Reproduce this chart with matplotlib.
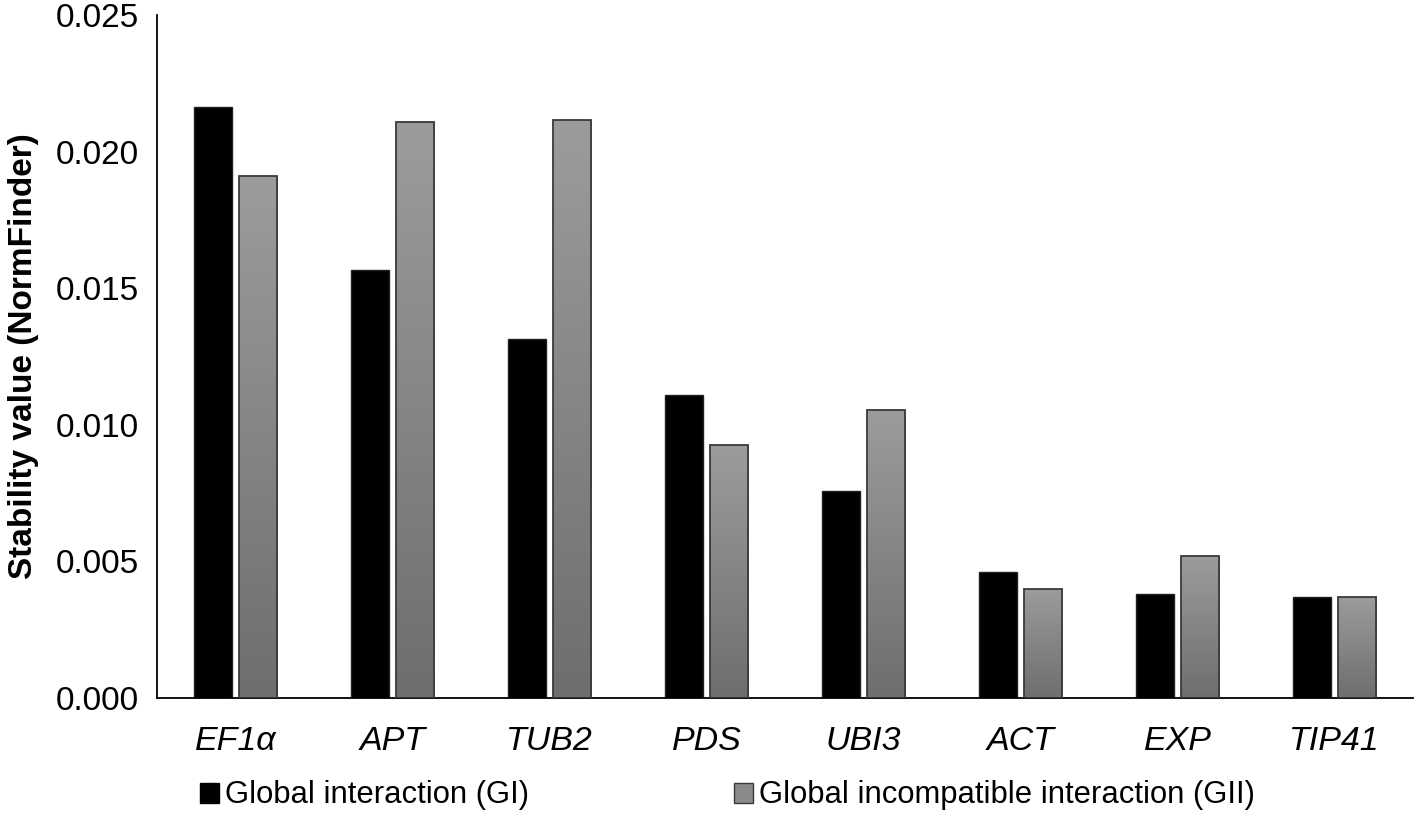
import matplotlib.pyplot as plt
import numpy as np
from matplotlib.colors import LinearSegmentedColormap
from matplotlib.patches import Patch

genes = ['EF1α', 'APT', 'TUB2', 'PDS', 'UBI3', 'ACT', 'EXP', 'TIP41']
gi = [0.02165, 0.01566, 0.01313, 0.0111, 0.00757, 0.0046, 0.00382, 0.00371]
gii = [0.01912, 0.0211, 0.02114, 0.00926, 0.01055, 0.0040, 0.00518, 0.00371]
yticks = [0.0, 0.005, 0.010, 0.015, 0.020, 0.025]

plt.rcParams['font.family'] = ['Liberation Sans', 'DejaVu Sans']

fig = plt.figure(figsize=(14.16, 8.15), dpi=100)
ax = fig.add_axes([0.1109, 0.1436, 0.887, 0.8380])

x = np.arange(len(genes))
w = 0.245
off = 0.143

ax.bar(x - off, gi, width=w, color='black', edgecolor='#222222', linewidth=1, zorder=2)

# gray bars with vertical gradient (light top, dark bottom)
grad_cmap = LinearSegmentedColormap.from_list('g', ['#6e6e6e', '#9c9c9c'])
grad = np.linspace(0, 1, 256).reshape(-1, 1)
bars = ax.bar(x + off, gii, width=w, facecolor='none', edgecolor='#3a3a3a', linewidth=1.3, zorder=3)
for b in bars:
    x0, y0 = b.get_x(), b.get_y()
    im = ax.imshow(grad, cmap=grad_cmap, origin='lower', aspect='auto',
                   extent=[x0, x0 + b.get_width(), y0, y0 + b.get_height()], zorder=2.5)
    im.set_clip_path(b)

ax.set_xlim(-0.5, len(genes) - 0.5)
ax.set_ylim(0, 0.025)
ax.set_yticks(yticks)
ax.set_yticklabels(['%.3f' % v for v in yticks], fontsize=24)
ax.set_xticks(x)
ax.set_xticklabels(genes, fontsize=24.5, style='italic')
ax.tick_params(axis='both', length=0)
ax.tick_params(axis='y', pad=13)
ax.tick_params(axis='x', pad=20)
for s in ['top', 'right']:
    ax.spines[s].set_visible(False)
ax.spines['left'].set_linewidth(1.3)
ax.spines['bottom'].set_linewidth(1.3)
ax.set_ylabel('Stability value (NormFinder)', fontsize=24, fontweight='bold', labelpad=12)

handles = [Patch(facecolor='black', edgecolor='black', label='Global interaction (GI)'),
           Patch(facecolor='#8a8a8a', edgecolor='#3a3a3a', label='Global incompatible interaction (GII)')]
fig.legend(handles=handles, loc='center left', bbox_to_anchor=(0.1412, 0.024), ncol=2,
           frameon=False, fontsize=22.3, handlelength=0.62, handleheight=0.62,
           handletextpad=0.2, columnspacing=6.6, borderpad=0, borderaxespad=0)

fig.savefig('out.png', dpi=100)
